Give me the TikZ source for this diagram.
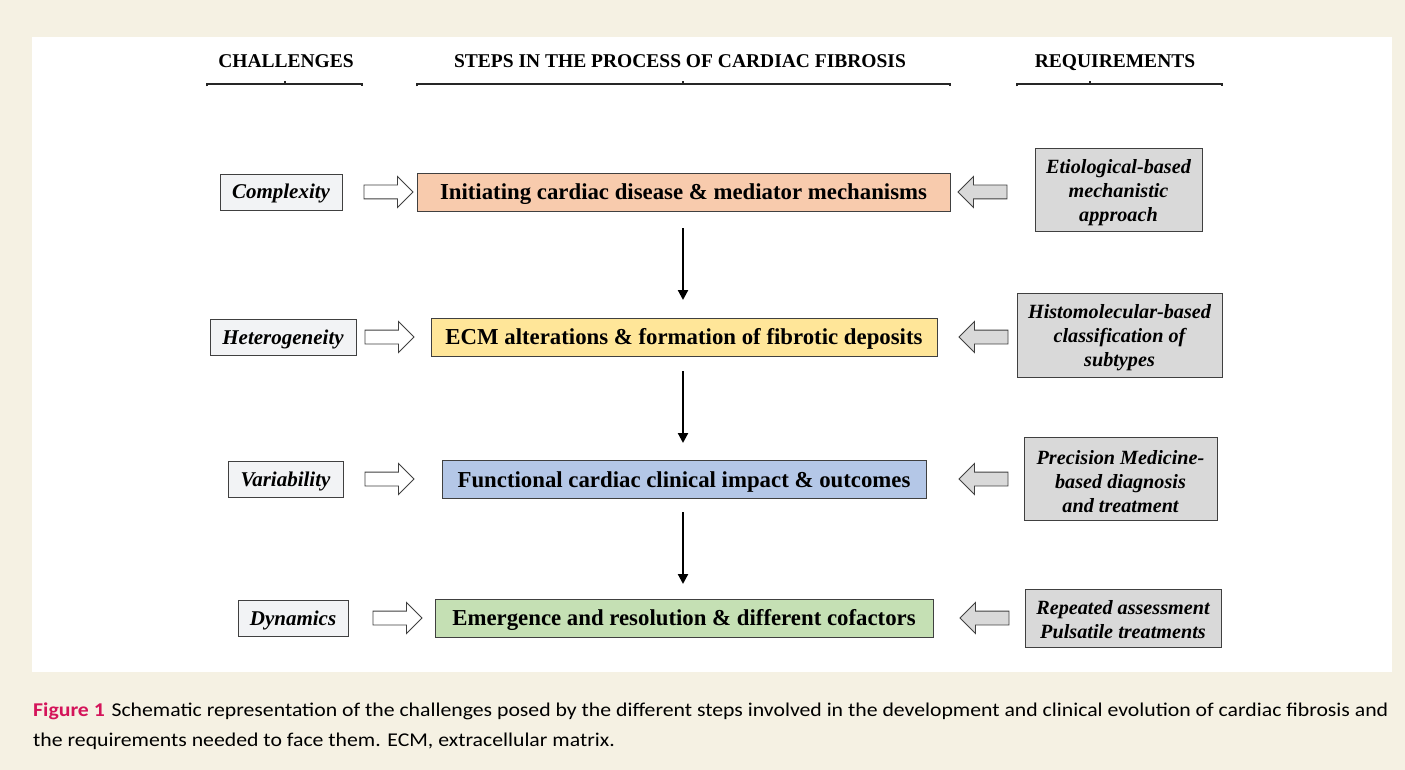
\documentclass[tikz,border=0pt]{standalone}
\usepackage{fontspec}
\setmainfont{Liberation Serif}
\newfontfamily\capfont{Carlito}
\usetikzlibrary{shapes.arrows,arrows.meta}
\definecolor{bgc}{HTML}{F5F1E3}
\definecolor{c1}{HTML}{F8CBAD}
\definecolor{c2}{HTML}{FFE699}
\definecolor{c3}{HTML}{B4C7E7}
\definecolor{c4}{HTML}{C5E0B4}
\definecolor{lbox}{HTML}{F2F3F5}
\definecolor{rbox}{HTML}{D9D9D9}
\definecolor{figred}{HTML}{D4145A}
\definecolor{bord}{HTML}{404040}
\tikzset{
  hdr/.style={font=\fontsize{19.5}{22}\selectfont\bfseries, inner sep=0pt, anchor=base},
  brk/.style={line width=1.4pt, draw=black!85},
  stepbox/.style={draw=bord, line width=0.9pt, minimum height=38pt, inner sep=0pt,
     text height=15pt, text depth=0pt,
     font=\fontsize{22.8}{26}\selectfont\bfseries},
  chbox/.style={draw=bord, line width=0.9pt, fill=lbox, minimum height=36pt, inner sep=0pt,
     text height=14pt, text depth=0pt,
     font=\fontsize{21}{24}\selectfont\bfseries\itshape},
  rqbox/.style={draw=bord, line width=0.9pt, fill=rbox, inner sep=0pt},
  rqtext/.style={inner sep=0pt, align=center,
     font=\fontsize{20.2}{24}\selectfont\bfseries\itshape},
  rarr/.style={single arrow, draw=bord, line width=0.9pt, fill=white, minimum height=49pt,
     single arrow head extend=8.5pt, inner sep=6.5pt},
  larr/.style={rarr, fill=rbox, shape border rotate=180},
  down/.style={line width=2.2pt, -{Triangle[length=10pt,width=10pt]}},
}
\begin{document}
\begin{tikzpicture}[x=1pt,y=-1pt]
\useasboundingbox (0,0) rectangle (1405,770);
\fill[bgc] (0,0) rectangle (1405,770);
\fill[white] (32,37) rectangle (1392,672);

% headers
\node[hdr] (h1) at (286,68) {CHALLENGES};
\node[hdr] (h2) at (680,68) {STEPS IN THE PROCESS OF CARDIAC FIBROSIS};
\node[hdr] (h3) at (1115,68) {REQUIREMENTS};
\draw[brk] (207,86.5) -- (207,84) -- (362,84) -- (362,86.5);
\draw[brk] (285,84) -- (285,81.5);
\draw[brk] (417,86.5) -- (417,84) -- (950,84) -- (950,86.5);
\draw[brk] (683,84) -- (683,81.5);
\draw[brk] (1017,86.5) -- (1017,84) -- (1222,84) -- (1222,86.5);
\draw[brk] (1090,84) -- (1090,81.5);

% steps
\node[stepbox, fill=c1, minimum width=533pt] (s1) at (683.5,192) {Initiating cardiac disease \& mediator mechanisms};
\node[stepbox, fill=c2, minimum width=506pt] (s2) at (684,337) {ECM alterations \& formation of fibrotic deposits};
\node[stepbox, fill=c3, minimum width=484pt] (s3) at (684,479.5) {Functional cardiac clinical impact \& outcomes};
\node[stepbox, fill=c4, minimum width=498pt] (s4) at (684,618) {Emergence and resolution \& different cofactors};

% challenges
\node[chbox, minimum width=122pt] (c1n) at (281,192) {Complexity};
\node[chbox, minimum width=146pt] (c2n) at (283,337.5) {Heterogeneity};
\node[chbox, minimum width=115pt] (c3n) at (285.5,479) {Variability};
\node[chbox, minimum width=110pt] (c4n) at (293,618.5) {Dynamics};

% requirements
\node[rqbox, minimum width=167pt, minimum height=83pt] (r1) at (1118.5,189.5) {};
\node[rqtext] (r1t) at ([yshift=-3pt]r1.center) {Etiological-based\\mechanistic\\approach};
\node[rqbox, minimum width=205pt, minimum height=84pt] (r2) at (1119.5,335) {};
\node[rqtext] (r2t) at ([yshift=-3pt]r2.center) {Histomolecular-based\\classification of\\subtypes};
\node[rqbox, minimum width=193pt, minimum height=83pt] (r3) at (1120.5,478.5) {};
\node[rqtext] (r3t) at ([yshift=-3pt]r3.center) {Precision Medicine-\\based diagnosis\\and treatment};
\node[rqbox, minimum width=196pt, minimum height=58pt] (r4) at (1123,618) {};
\node[rqtext] (r4t) at ([yshift=-2pt]r4.center) {Repeated assessment\\Pulsatile treatments};

% block arrows
\node[rarr] (a1) at (385,192) {};
\node[rarr] (a2) at (386,337) {};
\node[rarr] (a3) at (386,479) {};
\node[rarr] (a4) at (394,618) {};
\node[larr] (b1) at (986,192) {};
\node[larr] (b2) at (987,337) {};
\node[larr] (b3) at (987,479) {};
\node[larr] (b4) at (988,618) {};

% vertical arrows
\coordinate (v1a) at (683,228); \coordinate (v1b) at (683,300);
\coordinate (v2a) at (683,371); \coordinate (v2b) at (683,443);
\coordinate (v3a) at (683,512); \coordinate (v3b) at (683,584);
\draw[down] (v1a) -- (v1b);
\draw[down] (v2a) -- (v2b);
\draw[down] (v3a) -- (v3b);

% caption
\node[anchor=base west, inner sep=0pt, font=\capfont\fontsize{19.5}{24}\selectfont] (cap1) at (33,716)
  {\scalebox{1.115}[1]{{\color{figred}\bfseries Figure 1}\hspace{6pt}Schematic representation of the challenges posed by the different steps involved in the development and clinical evolution of cardiac fibrosis and}};
\node[anchor=base west, inner sep=0pt, font=\capfont\fontsize{19.5}{24}\selectfont] (cap2) at (33,746)
  {\scalebox{1.115}[1]{the requirements needed to face them. ECM, extracellular matrix.}};
\end{tikzpicture}
\end{document}
